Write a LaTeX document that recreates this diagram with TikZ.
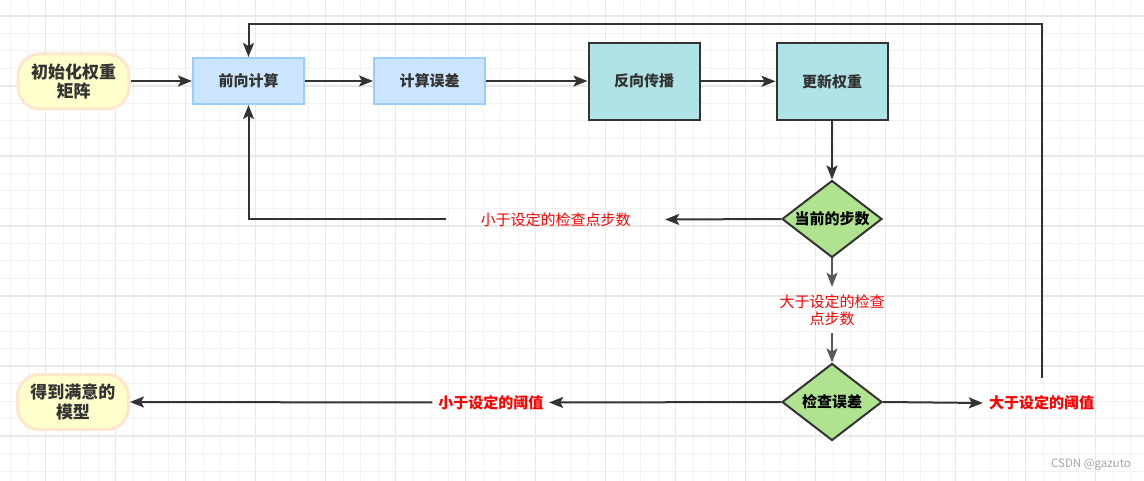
\documentclass[tikz,border=0pt]{standalone}
\usepackage{fontspec}
\setmainfont{Noto Sans CJK SC}
\usetikzlibrary{shapes.geometric,arrows.meta}
\definecolor{gfine}{HTML}{F2F2F2}
\definecolor{gthick}{HTML}{E8E8E8}
\definecolor{dk}{HTML}{333333}
\definecolor{gr}{HTML}{595959}
\definecolor{termfill}{HTML}{FFFFCC}
\definecolor{termdraw}{HTML}{FFE6CC}
\definecolor{bluefill}{HTML}{CCE5FF}
\definecolor{bluedraw}{HTML}{99CCFF}
\definecolor{cyanfill}{HTML}{B0E3E6}
\definecolor{greenfill}{HTML}{B0E38F}
\definecolor{lblred}{HTML}{FF0000}
\definecolor{wm}{HTML}{A6A6A6}
\tikzset{
  fine/.style={draw=gfine,line width=1pt},
  thick/.style={draw=gthick,line width=1.3pt},
  txt/.style={font=\fontsize{15}{17}\selectfont\bfseries,text=dk,align=center},
  term/.style={txt,font=\fontsize{17}{19.5}\selectfont\bfseries,rectangle,rounded corners=22pt,fill=termfill,draw=termdraw,line width=3pt,minimum width=111pt,minimum height=55pt,inner sep=0pt},
  bluebox/.style={txt,rectangle,fill=bluefill,draw=bluedraw,line width=2pt,minimum width=111pt,minimum height=46pt,inner sep=0pt},
  cyanbox/.style={txt,rectangle,fill=cyanfill,draw=dk,line width=2pt,minimum width=111pt,minimum height=77pt,inner sep=0pt},
  decide/.style={txt,text=black,diamond,aspect=1.3,fill=greenfill,draw=dk,line width=2pt,minimum width=100pt,minimum height=77pt,inner sep=0pt},
  redlbl/.style={font=\fontsize{15}{17}\selectfont,text=lblred,align=center,inner sep=0pt},
  redbold/.style={redlbl,font=\fontsize{15}{17}\selectfont\bfseries},
  arr/.style={draw=dk,line width=2pt,-{Stealth[length=14pt,width=11pt,inset=3pt]}},
  garr/.style={arr,draw=gr},
  ln/.style={draw=dk,line width=2pt},
}
\begin{document}
\begin{tikzpicture}[x=1pt,y=-1pt]
\useasboundingbox (0,0) rectangle (1144,481);
\fill[white] (0,0) rectangle (1144,481);
% grid
\foreach \i in {0,...,65} {\draw[fine] ({10.7+17.5*\i},0) -- ({10.7+17.5*\i},481);}
\foreach \j in {0,...,27} {\draw[fine] (0,{-1.5+17.5*\j}) -- (1144,{-1.5+17.5*\j});}
\foreach \i in {0,...,15} {\draw[thick] ({45.7+70*\i},0) -- ({45.7+70*\i},481);}
\foreach \j in {0,...,6} {\draw[thick] (0,{16+70*\j}) -- (1144,{16+70*\j});}

% nodes
\node[term] (init) at (73.5,81.5) {初始化权重\\矩阵};
\node[bluebox] (fwd) at (248.5,81) {前向计算};
\node[bluebox] (err) at (429.5,81) {计算误差};
\node[cyanbox] (back) at (644,81.3) {反向传播};
\node[cyanbox] (upd) at (832,81.3) {更新权重};
\node[decide] (d1) at (832,219) {当前的步数};
\node[decide] (d2) at (832,402) {检查误差};
\node[term] (fin) at (73,402) {得到满意的\\模型};

\node[redlbl,minimum width=219pt,minimum height=20pt] (l1) at (555.5,219.5) {小于设定的检查点步数};
\node[redlbl,minimum width=120pt,minimum height=46pt] (l2) at (832,310) {大于设定的检查\\点步数};
\node[redbold,minimum width=116.5pt,minimum height=20pt] (l3) at (490.75,402.5) {小于设定的阈值};
\node[redbold,minimum width=117pt,minimum height=50pt] (l4) at (1041.5,403) {大于设定的阈值};

\node[font=\fontsize{11.5}{13}\selectfont,text=wm,inner sep=0pt] (wmk) at (1091,465) {CSDN @gazuto};

\coordinate (tr) at (1041.5,24);

% edges
\draw[arr] (init.east |- fwd.west) -- (fwd.west);
\draw[arr] (fwd) -- (err);
\draw[arr] (err.east) -- (back.west |- err.east);
\draw[arr] (back) -- (upd);
\draw[arr] (upd) -- (d1);
\draw[arr] (d1.west) -- (l1.east);
\draw[arr] (l1.west) -| (fwd.south);
\draw[garr] (d1.south) -- (l2.north);
\draw[garr] (l2.south) -- (d2.north);
\draw[arr] (d2.west) -- (l3.east);
\draw[arr] (l3.west) -- (fin.east);
\draw[arr] (d2.east) -- (l4.west);
\draw[arr] (l4.north) -- (tr) -| (fwd.north);
\end{tikzpicture}
\end{document}
